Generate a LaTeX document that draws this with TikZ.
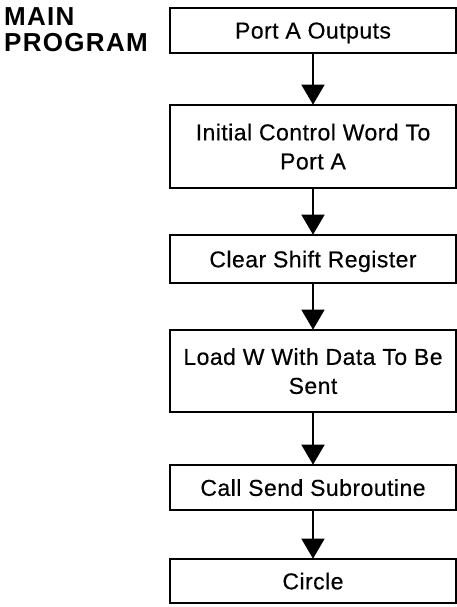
\documentclass[tikz,border=0pt]{standalone}
\usepackage{fontspec}
\setmainfont{Liberation Sans}
\newfontfamily\boxfont[FakeBold=0.4,LetterSpace=2]{Liberation Sans}
\newfontfamily\headfont[LetterSpace=5]{Liberation Sans}
\usetikzlibrary{arrows.meta}
\begin{document}
\begin{tikzpicture}[x=1pt,y=-1pt,
  stepbox/.style={draw, line width=1.7pt, rectangle, minimum width=286pt,
    inner sep=0pt, align=center, text depth=0pt,
    font=\boxfont\fontsize{23}{29}\selectfont},
  flow/.style={line width=1.8pt, -{Triangle[width=23pt,length=20pt]}, shorten >=-0.5pt},
  heading/.style={anchor=north west, inner sep=0pt, align=left,
    font=\headfont\fontsize{26}{26}\selectfont\bfseries}]
\useasboundingbox (0,0) rectangle (457,607);

\node[heading] (title) at (4,7) {MAIN\\PROGRAM};

\node[stepbox, minimum height=45pt] (b1) at (313,30.5) {Port A Outputs};
\node[stepbox, minimum height=83pt] (b2) at (313,146.5) {Initial Control Word To\\Port A};
\node[stepbox, minimum height=48pt] (b3) at (313,259) {Clear Shift Register};
\node[stepbox, minimum height=82pt] (b4) at (313,371) {Load W With Data To Be\\Sent};
\node[stepbox, minimum height=45pt] (b5) at (313,487.5) {Call Send Subroutine};
\node[stepbox, minimum height=44pt] (b6) at (313,581) {Circle};

\draw[flow] (b1) -- (b2);
\draw[flow] (b2) -- (b3);
\draw[flow] (b3) -- (b4);
\draw[flow] (b4) -- (b5);
\draw[flow] (b5) -- (b6);
\end{tikzpicture}
\end{document}
